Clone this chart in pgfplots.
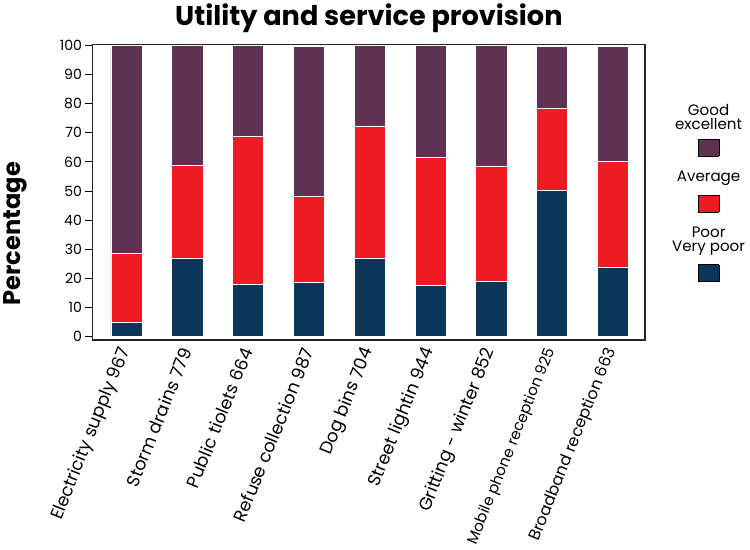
\documentclass[border=0pt]{standalone}
\usepackage{pgfplots}
\pgfplotsset{compat=1.18}
\usepackage{fontspec}
\setmainfont{Poppins}
\definecolor{goodc}{HTML}{5E3352}
\definecolor{avgc}{HTML}{ED1C24}
\definecolor{poorc}{HTML}{0B3659}
\newcommand{\lbox}[1]{{\setlength{\fboxsep}{0pt}\setlength{\fboxrule}{0.8pt}\fcolorbox{black}{#1}{\rule{0pt}{16pt}\hspace{20pt}}}}
\begin{document}
\begin{tikzpicture}
\begin{axis}[
  scale only axis,
  width=550pt, height=294pt,
  ybar stacked,
  bar width=31pt,
  xmin=-0.56, xmax=8.53,
  ymin=-1.2, ymax=100.3,
  ytick={0,10,...,100},
  xtick={0,...,8},
  xticklabels={Electricity supply 967, Storm drains 779, Public tiolets 664, Refuse collection 987, Dog bins 704, Street lightin 944, Gritting - winter 852, {\fontsize{15}{15}\selectfont Mobile phone reception 925}, {\fontsize{16}{16}\selectfont Broadband reception 663}},
  x tick label style={rotate=68, anchor=east, font=\fontsize{17.5}{17.5}\selectfont, inner sep=2pt},
  y tick label style={font=\fontsize{14}{14}\selectfont},
  /pgf/number format/assume math mode=true,
  xtick style={draw=none},
  ytick pos=left,
  ytick style={black, line width=0.8pt},
  tick align=outside,
  major tick length=7pt,
  axis line style={black!85, line width=1.6pt},
  title={Utility and service provision},
  title style={at={(axis description cs:0.5,1.07)}, anchor=center, font=\fontsize{27}{27}\selectfont\bfseries},
  ylabel={Percentage},
  ylabel style={at={(axis description cs:-0.14,0.36)}, rotate=0, anchor=center, font=\fontsize{24}{24}\selectfont\bfseries},
  reverse legend,
  legend image code/.code={},
  legend style={at={(axis description cs:1,1)}, anchor=north, xshift=63pt, yshift=-55pt, draw=none, fill=none, font=\fontsize{15}{17}\selectfont, row sep=10pt, cells={align=center}},
  legend cell align=center,
]
\addplot[fill=poorc, draw=white, line width=0.8pt] coordinates {(0,5) (1,27) (2,18) (3,18.6) (4,27) (5,17.5) (6,19) (7,50.2) (8,23.7)};
\addlegendentry{\shortstack{Poor\\Very poor\\[6pt]\lbox{poorc}}}
\addplot[fill=avgc, draw=white, line width=0.8pt] coordinates {(0,23.6) (1,31.9) (2,50.6) (3,29.7) (4,45.1) (5,44) (6,39.5) (7,28.3) (8,36.3)};
\addlegendentry{\shortstack{Average\\[6pt]\lbox{avgc}}}
\addplot[fill=goodc, draw=white, line width=0.8pt] coordinates {(0,71.4) (1,41.1) (2,31.4) (3,51.4) (4,27.9) (5,38.5) (6,41.5) (7,21.2) (8,39.7)};
\addlegendentry{\shortstack{Good\\excellent\\[6pt]\lbox{goodc}}}
\end{axis}
\end{tikzpicture}
\end{document}
